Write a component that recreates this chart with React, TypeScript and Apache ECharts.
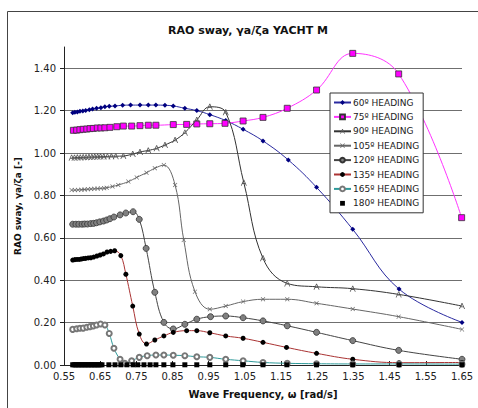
import React, { useEffect, useRef } from "react";
import * as echarts from "echarts";

const X_TICKS = [0.55, 0.65, 0.75, 0.85, 0.95, 1.05, 1.15, 1.25, 1.35, 1.45, 1.55, 1.65];
const Y_TICKS = [0, 0.2, 0.4, 0.6, 0.8, 1.0, 1.2, 1.4];

const F60 = [0.574, 0.580, 0.587, 0.594, 0.602, 0.610, 0.620, 0.629, 0.640, 0.652, 0.663, 0.675, 0.691, 0.712, 0.734, 0.760, 0.783, 0.804, 0.829, 0.852, 0.884, 0.917, 0.953, 0.997, 1.045, 1.100, 1.170, 1.248, 1.348, 1.476, 1.650];
const V60 = [1.190, 1.192, 1.193, 1.197, 1.198, 1.201, 1.204, 1.208, 1.211, 1.214, 1.218, 1.220, 1.222, 1.225, 1.226, 1.226, 1.226, 1.226, 1.225, 1.222, 1.211, 1.200, 1.181, 1.153, 1.112, 1.057, 0.967, 0.838, 0.640, 0.358, 0.201];

const F75 = [0.576, 0.585, 0.594, 0.603, 0.613, 0.622, 0.631, 0.642, 0.652, 0.663, 0.677, 0.696, 0.714, 0.737, 0.760, 0.783, 0.804, 0.852, 0.889, 0.917, 0.953, 0.995, 1.045, 1.100, 1.167, 1.248, 1.348, 1.475, 1.649];
const V75 = [1.107, 1.108, 1.110, 1.112, 1.113, 1.115, 1.116, 1.118, 1.118, 1.119, 1.121, 1.124, 1.127, 1.127, 1.129, 1.131, 1.131, 1.134, 1.135, 1.137, 1.138, 1.140, 1.151, 1.168, 1.211, 1.297, 1.470, 1.373, 0.695];

const F90 = [0.571, 0.579, 0.587, 0.595, 0.603, 0.611, 0.619, 0.627, 0.635, 0.643, 0.651, 0.660, 0.670, 0.681, 0.693, 0.714, 0.740, 0.760, 0.783, 0.806, 0.829, 0.857, 0.884, 0.917, 0.953, 0.997, 1.047, 1.100, 1.167, 1.248, 1.348, 1.475, 1.650];
const V90 = [0.978, 0.978, 0.979, 0.979, 0.980, 0.980, 0.981, 0.981, 0.982, 0.982, 0.983, 0.983, 0.984, 0.985, 0.985, 0.986, 0.995, 1.005, 1.012, 1.022, 1.038, 1.061, 1.096, 1.156, 1.218, 1.192, 0.860, 0.503, 0.385, 0.369, 0.360, 0.333, 0.278];

const F105 = [0.571, 0.580, 0.589, 0.598, 0.607, 0.616, 0.625, 0.634, 0.643, 0.652, 0.661, 0.668, 0.684, 0.700, 0.728, 0.751, 0.778, 0.801, 0.826, 0.857, 0.881, 0.912, 0.953, 0.997, 1.045, 1.100, 1.167, 1.248, 1.348, 1.475, 1.650];
const V105 = [0.825, 0.825, 0.826, 0.827, 0.828, 0.829, 0.830, 0.831, 0.832, 0.833, 0.834, 0.836, 0.842, 0.849, 0.865, 0.885, 0.907, 0.928, 0.943, 0.849, 0.590, 0.346, 0.263, 0.278, 0.299, 0.310, 0.310, 0.291, 0.264, 0.228, 0.168];

const F120 = [0.574, 0.583, 0.591, 0.600, 0.607, 0.615, 0.624, 0.632, 0.640, 0.649, 0.659, 0.668, 0.677, 0.688, 0.705, 0.721, 0.741, 0.758, 0.777, 0.801, 0.826, 0.852, 0.884, 0.917, 0.955, 0.997, 1.045, 1.100, 1.167, 1.248, 1.348, 1.475, 1.650];
const V120 = [0.664, 0.664, 0.664, 0.664, 0.665, 0.665, 0.667, 0.668, 0.671, 0.675, 0.679, 0.684, 0.690, 0.698, 0.708, 0.717, 0.723, 0.687, 0.550, 0.343, 0.201, 0.170, 0.192, 0.216, 0.228, 0.231, 0.223, 0.208, 0.185, 0.154, 0.115, 0.069, 0.027];

const F135 = [0.574, 0.580, 0.586, 0.592, 0.598, 0.604, 0.610, 0.617, 0.624, 0.632, 0.641, 0.650, 0.659, 0.669, 0.679, 0.690, 0.707, 0.721, 0.740, 0.758, 0.778, 0.801, 0.826, 0.852, 0.889, 0.917, 0.953, 0.997, 1.045, 1.100, 1.165, 1.248, 1.348, 1.476, 1.650];
const V135 = [0.495, 0.497, 0.498, 0.498, 0.500, 0.502, 0.503, 0.505, 0.506, 0.509, 0.514, 0.519, 0.524, 0.533, 0.536, 0.539, 0.516, 0.428, 0.278, 0.146, 0.099, 0.118, 0.137, 0.154, 0.162, 0.162, 0.152, 0.137, 0.126, 0.107, 0.083, 0.055, 0.027, 0.011, 0.012];

const F165 = [0.574, 0.585, 0.594, 0.603, 0.613, 0.622, 0.631, 0.640, 0.651, 0.663, 0.675, 0.688, 0.705, 0.718, 0.737, 0.758, 0.780, 0.804, 0.826, 0.852, 0.884, 0.917, 0.953, 0.997, 1.045, 1.100, 1.167, 1.248, 1.348, 1.476, 1.650];
const V165 = [0.168, 0.171, 0.173, 0.174, 0.178, 0.181, 0.184, 0.189, 0.193, 0.189, 0.149, 0.079, 0.027, 0.008, 0.020, 0.036, 0.044, 0.047, 0.047, 0.046, 0.044, 0.039, 0.036, 0.027, 0.020, 0.012, 0.008, 0.006, 0.005, 0.005, 0.004];

const F180 = [0.574, 0.578, 0.582, 0.586, 0.590, 0.594, 0.598, 0.602, 0.606, 0.610, 0.614, 0.618, 0.622, 0.626, 0.630, 0.634, 0.638, 0.642, 0.646, 0.650, 0.655, 0.674, 0.691, 0.707, 0.724, 0.741, 0.754, 0.771, 0.788, 0.804, 0.826, 0.851, 0.884, 0.917, 0.953, 0.997, 1.044, 1.100, 1.166, 1.248, 1.348, 1.476, 1.650];
const V180 = [0.001, 0.001, 0.001, 0.001, 0.001, 0.001, 0.001, 0.001, 0.001, 0.001, 0.001, 0.001, 0.001, 0.001, 0.001, 0.001, 0.001, 0.001, 0.001, 0.001, 0.001, 0.001, 0.001, 0.001, 0.001, 0.001, 0.001, 0.001, 0.001, 0.001, 0.001, 0.001, 0.001, 0.001, 0.001, 0.001, 0.001, 0.001, 0.001, 0.001, 0.001, 0.001, 0.001];

const NAMES = ["60º HEADING", "75º HEADING", "90º HEADING", "105º HEADING", "120º HEADING", "135º HEADING", "165º HEADING", "180º HEADING"];

const zip = (f: number[], v: number[]) => f.map((x, i) => [x, v[i]]);

const FONT = "'DejaVu Sans', Verdana, sans-serif";
const X_MARK = "path://M0,1L1,0L5,4L9,0L10,1L6,5L10,9L9,10L5,6L1,10L0,9L4,5Z";
const CARET_MARK = "path://M0,10L4.3,0L5.7,0L10,10L8.6,10L7.3,7L2.7,7L1.4,10ZM3.3,5.6L6.7,5.6L5,1.6Z";

export default function App() {
  const ref = useRef<HTMLDivElement>(null);
  useEffect(() => {
    if (!ref.current) return;
    const chart = echarts.init(ref.current, undefined, { renderer: "svg" });
    const lineSeries = (
      name: string,
      f: number[],
      v: number[],
      lineStyle: any,
      symbol: string,
      symbolSize: number,
      itemStyle: any
    ) => ({
      name,
      type: "line",
      data: zip(f, v),
      smooth: 0.4,
      symbol,
      symbolSize,
      showAllSymbol: true,
      lineStyle,
      itemStyle,
      emphasis: { disabled: true },
    });
    chart.setOption({
      animation: false,
      backgroundColor: "#fff",
      textStyle: { fontFamily: FONT },
      title: {
        text: "RAO sway, γa/ζa YACHT M",
        left: 243,
        top: 20,
        textAlign: "center",
        textStyle: { fontFamily: FONT, fontSize: 11, fontWeight: "bold", color: "#111" },
      },
      graphic: [
        {
          type: "rect",
          shape: { x: 7.5, y: 11.5, width: 520, height: 460 },
          style: { fill: "none", stroke: "#444", lineWidth: 1 },
          silent: true,
          z: -1,
        },
      ],
      grid: { left: 64, right: 16, top: 47, bottom: 43, containLabel: false },
      legend: {
        orient: "vertical",
        left: 330,
        top: 93,
        padding: [5, 4, 5, 3],
        itemGap: 5.4,
        itemWidth: 17,
        itemHeight: 6,
        backgroundColor: "#fff",
        borderColor: "#333",
        borderWidth: 1,
        borderRadius: 0,
        textStyle: { fontFamily: FONT, fontSize: 9, color: "#222", padding: [0, 0, 0, -3] },
        data: NAMES,
      },
      xAxis: {
        type: "value",
        min: 0.55,
        max: 1.65,
        name: "Wave Frequency, ω [rad/s]",
        nameLocation: "middle",
        nameGap: 24,
        nameTextStyle: { fontFamily: FONT, fontSize: 10, fontWeight: "bold", color: "#111" },
        axisLine: { show: true, onZero: false, lineStyle: { color: "#222", width: 1 } },
        axisTick: { show: true, inside: true, length: 4, customValues: X_TICKS, lineStyle: { color: "#222" } },
        axisLabel: {
          customValues: X_TICKS,
          formatter: (v: number) => v.toFixed(2),
          fontFamily: FONT,
          fontSize: 10,
          color: "#222",
          margin: 6,
        },
        splitLine: { show: false },
      },
      yAxis: {
        type: "value",
        min: 0,
        max: 1.5,
        name: "RAO sway, γa/ζa [-]",
        nameLocation: "middle",
        nameRotate: 90,
        nameGap: 40,
        nameTextStyle: { fontFamily: FONT, fontSize: 9, fontWeight: "bold", color: "#111" },
        axisLine: { show: true, lineStyle: { color: "#222", width: 1 } },
        axisTick: { show: true, inside: false, length: 4, customValues: Y_TICKS, lineStyle: { color: "#222" } },
        axisLabel: {
          customValues: Y_TICKS,
          formatter: (v: number) => v.toFixed(2),
          fontFamily: FONT,
          fontSize: 10,
          color: "#222",
          margin: 8,
        },
        splitLine: { show: true, lineStyle: { color: "#6f6f6f", width: 1 } },
      },
      series: [
        lineSeries(NAMES[0], F60, V60, { color: "#2a2aa0", width: 1 }, "diamond", 5, { color: "#000080" }),
        lineSeries(NAMES[1], F75, V75, { color: "#ff33ff", width: 1 }, "rect", 6, { color: "#ff00ff", borderColor: "#333", borderWidth: 0.8 }),
        lineSeries(NAMES[2], F90, V90, { color: "#333", width: 1 }, CARET_MARK, 6, { color: "#555" }),
        lineSeries(NAMES[3], F105, V105, { color: "#666", width: 1 }, X_MARK, 4.5, { color: "#666" }),
        lineSeries(NAMES[4], F120, V120, { color: "#444", width: 1 }, "circle", 6, { color: "#808080", borderColor: "#333", borderWidth: 0.8 }),
        lineSeries(NAMES[5], F135, V135, { color: "#a33", width: 1 }, "circle", 5, { color: "#000" }),
        lineSeries(NAMES[6], F165, V165, { color: "#2e9a9a", width: 1 }, "emptyCircle", 5, { color: "#777", borderWidth: 0.8 }),
        lineSeries(NAMES[7], F180, V180, { color: "#000", width: 0, opacity: 0 }, "rect", 5, { color: "#000" }),
      ],
    });
    return () => chart.dispose();
  }, []);
  return (
    <div
      ref={ref}
      style={{ position: "fixed", left: 0, top: 0, width: 478, height: 408 }}
    />
  );
}
